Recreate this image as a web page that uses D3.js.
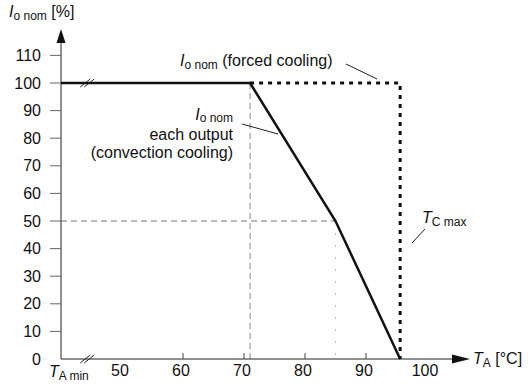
<!DOCTYPE html>
<html><head><meta charset="utf-8">
<script src="https://cdn.jsdelivr.net/npm/d3@7"></script>
<style>
body{margin:0;background:#fff;}
text{font-family:"Liberation Sans",Arial,Helvetica,sans-serif;fill:#111;}
</style></head>
<body><svg id="c" width="528" height="385"></svg>
<script>
// Data
const yTicks = [0,10,20,30,40,50,60,70,80,90,100,110];
const xTicks = [50,60,70,80,90,100];
const xMinorTicks = [60,70,80,90];
const tAmin = 40;            // broken-axis origin (T_A min)
const tBreak = 44.3;         // position of axis break marks
const convT = [tAmin, 71, 85, 95.6];
const convI = [100, 100, 50, 0];
const forcedT = [71, 95.6, 95.6];
const forcedI = [100, 100, 0];

const svg = d3.select("#c");
const x = d3.scaleLinear().domain([40,100]).range([61,427]);
const y = d3.scaleLinear().domain([0,100]).range([359,83]);
const X0 = x(tAmin), Y0 = y(0);

// guide lines
const g = svg.append("g");
g.append("line").attr("x1",x(71)).attr("x2",x(71)).attr("y1",y(100)).attr("y2",y(0))
 .attr("stroke","#888").attr("stroke-width",1).attr("stroke-dasharray","6,4");
g.append("line").attr("x1",X0).attr("x2",x(85)).attr("y1",y(50)).attr("y2",y(50))
 .attr("stroke","#777").attr("stroke-width",1).attr("stroke-dasharray","6,4");
g.append("line").attr("x1",x(85)).attr("x2",x(85)).attr("y1",y(50)).attr("y2",y(0))
 .attr("stroke","#bbb").attr("stroke-width",1).attr("stroke-dasharray","2,10");

// y axis
svg.append("line").attr("x1",X0).attr("x2",X0).attr("y1",Y0).attr("y2",40).attr("stroke","#222").attr("stroke-width",1);
svg.append("path").attr("d",`M${X0},29 L${X0-4.5},43 L${X0+4.5},43 Z`).attr("fill","#111");
const yt = svg.append("g");
yTicks.forEach(v=>{
  if(v>0) yt.append("line").attr("x1",X0-11).attr("x2",X0).attr("y1",y(v)).attr("y2",y(v)).attr("stroke","#666").attr("stroke-width",1);
  yt.append("text").attr("x",41).attr("y",y(v)+5.5).attr("text-anchor","end").attr("font-size",16).text(v);
});

// x axis
svg.append("line").attr("x1",X0).attr("x2",455).attr("y1",Y0).attr("y2",Y0).attr("stroke","#222").attr("stroke-width",1);
svg.append("path").attr("d",`M470,${Y0} L452,${Y0-4.5} L452,${Y0+4.5} Z`).attr("fill","#111");
xMinorTicks.forEach(v=>{
  svg.append("line").attr("x1",x(v)).attr("x2",x(v)).attr("y1",Y0-6).attr("y2",Y0).attr("stroke","#444").attr("stroke-width",1);
});
xTicks.forEach(v=>{
  svg.append("text").attr("x",x(v)-2).attr("y",Y0+17).attr("text-anchor","middle").attr("font-size",16).text(v);
});

// curves
const line = d3.line().x(d=>x(d[0])).y(d=>y(d[1]));
svg.append("path").datum(forcedT.map((t,i)=>[t,forcedI[i]])).attr("d",line)
 .attr("fill","none").attr("stroke","#111").attr("stroke-width",3).attr("stroke-dasharray","4,5");
svg.append("path").datum(convT.map((t,i)=>[t,convI[i]])).attr("d",line)
 .attr("fill","none").attr("stroke","#111").attr("stroke-width",2.5);

// break marks
[y(100), Y0].forEach(yy=>{
  [-2,2].forEach(dx=>{
    svg.append("line").attr("x1",x(tBreak)+dx-5).attr("x2",x(tBreak)+dx+5).attr("y1",yy+4).attr("y2",yy-4)
      .attr("stroke","#222").attr("stroke-width",1);
  });
});

// labels
function ital(sel, main, sub, rest, subDy){
  const d = subDy||3;
  sel.append("tspan").attr("font-style","italic").text(main);
  sel.append("tspan").attr("font-size",12).attr("dy",d).text(sub);
  if(rest) sel.append("tspan").attr("dy",-d).text(rest);
}
let t;
t = svg.append("text").attr("x",9).attr("y",17).attr("font-size",16); ital(t,"I","o nom"," [%]");
t = svg.append("text").attr("x",180).attr("y",66).attr("font-size",16); ital(t,"I","o nom"," (forced cooling)");
svg.append("line").attr("x1",346).attr("y1",64).attr("x2",377).attr("y2",79).attr("stroke","#222").attr("stroke-width",1);

t = svg.append("text").attr("x",233).attr("y",120).attr("font-size",16).attr("text-anchor","end"); ital(t,"I","o nom",null,2);
svg.append("text").attr("x",233).attr("y",140).attr("font-size",16).attr("text-anchor","end").text("each output");
svg.append("text").attr("x",233).attr("y",158).attr("font-size",16).attr("text-anchor","end").text("(convection cooling)");
svg.append("line").attr("x1",242).attr("y1",124).attr("x2",278).attr("y2",134).attr("stroke","#222").attr("stroke-width",1);

t = svg.append("text").attr("x",422).attr("y",223).attr("font-size",16); ital(t,"T","C max");
svg.append("line").attr("x1",412).attr("y1",243).attr("x2",425).attr("y2",229).attr("stroke","#222").attr("stroke-width",1);

t = svg.append("text").attr("x",473).attr("y",364).attr("font-size",16); ital(t,"T","A"," [°C]");
t = svg.append("text").attr("x",49).attr("y",377).attr("font-size",16); ital(t,"T","A min");
</script></body></html>
